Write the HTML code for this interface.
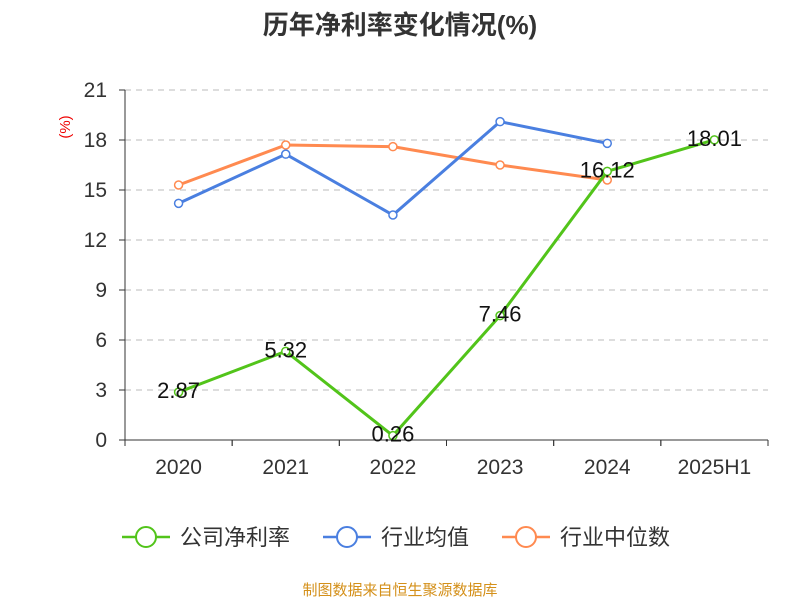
<!DOCTYPE html>
<html><head><meta charset="utf-8"><style>
body{margin:0;background:#fff;font-family:"Liberation Sans","Noto Sans CJK SC",sans-serif}
</style></head><body>
<svg id="c" width="800" height="600" xmlns="http://www.w3.org/2000/svg" font-family="Liberation Sans, Noto Sans CJK SC, sans-serif">
<text x="400" y="34" text-anchor="middle" font-size="26" font-weight="bold" fill="#333">历年净利率变化情况(%)</text>
<text x="70" y="127" text-anchor="middle" font-size="15" fill="#e00" transform="rotate(-90 70 127)">(%)</text>
<g id="grid"></g><g id="axes"></g><g id="series"></g><g id="labels"></g>
<g>
<g><line x1="122" y1="537" x2="170" y2="537" stroke="#52c41a" stroke-width="2.5"/><circle cx="146" cy="537" r="10" fill="#fff" stroke="#52c41a" stroke-width="2"/><text x="180" y="545" font-size="22" fill="#333">公司净利率</text></g>
<g><line x1="323" y1="537" x2="371" y2="537" stroke="#4a7fe0" stroke-width="2.5"/><circle cx="347" cy="537" r="10" fill="#fff" stroke="#4a7fe0" stroke-width="2"/><text x="381" y="545" font-size="22" fill="#333">行业均值</text></g>
<g><line x1="502" y1="537" x2="550" y2="537" stroke="#ff8a50" stroke-width="2.5"/><circle cx="526" cy="537" r="10" fill="#fff" stroke="#ff8a50" stroke-width="2"/><text x="560" y="545" font-size="22" fill="#333">行业中位数</text></g>
</g>
<text x="400" y="595" text-anchor="middle" font-size="15" fill="#d4901a">制图数据来自恒生聚源数据库</text>
</svg>
<script>
const categories=["2020","2021","2022","2023","2024","2025H1"];
const companyValues=[2.87,5.32,0.26,7.46,16.12,18.01];
const industryAvg=[14.2,17.15,13.5,19.1,17.8,null];
const industryMedian=[15.3,17.7,17.6,16.5,15.6,null];
const yTicks=[0,3,6,9,12,15,18,21];
const NS="http://www.w3.org/2000/svg";
const X0=125,X1=768,Y0=440,Y1=90,YMAX=21;
const bw=(X1-X0)/categories.length;
const xs=i=>X0+bw*(i+0.5);
const ys=v=>Y0-(v/YMAX)*(Y0-Y1);
function mk(t,a,p){const e=document.createElementNS(NS,t);for(const k in a)e.setAttribute(k,a[k]);p.appendChild(e);return e;}
const grid=document.getElementById('grid'),axes=document.getElementById('axes'),ser=document.getElementById('series'),lab=document.getElementById('labels');
yTicks.forEach(v=>{
 if(v>0){const l=mk('line',{x1:X0,x2:X1,y1:ys(v),y2:ys(v),stroke:'#bbb','stroke-dasharray':'6,5'},grid);
 
 }
 const tk=mk('line',{x1:X0-6,x2:X0,y1:ys(v),y2:ys(v),stroke:'#333'},axes);
 
 
 const t=mk('text',{x:X0-18,y:ys(v)+7,'text-anchor':'end','font-size':21,fill:'#333'},axes);t.textContent=v;
 
 
});
const ya=mk('line',{x1:X0,x2:X0,y1:Y1,y2:Y0,stroke:'#333'},axes);


const xa=mk('line',{x1:X0,x2:X1,y1:Y0,y2:Y0,stroke:'#333'},axes);


categories.forEach((c,i)=>{
 for(const x of [X0+bw*i,X0+bw*(i+1)]){const tk=mk('line',{x1:x,x2:x,y1:Y0,y2:Y0+6,stroke:'#333'},axes);
 
 }
 const t=mk('text',{x:xs(i),y:Y0+34,'text-anchor':'middle','font-size':21,fill:'#333'},axes);t.textContent=c;
 
 
});
function line(vals,color,name){
 const pts=vals.map((v,i)=>v==null?null:[xs(i),ys(v)]).filter(p=>p);
 const pl=mk('polyline',{points:pts.map(p=>p.join(',')).join(' '),fill:'none',stroke:color,'stroke-width':3},ser);
 
 
 pts.forEach(p=>{const c=mk('circle',{cx:p[0],cy:p[1],r:4,fill:'#fff',stroke:color,'stroke-width':1.5},ser);
 
 });
}
line(industryMedian,'#ff8a50','industry-median');
line(industryAvg,'#4a7fe0','industry-average');
line(companyValues,'#52c41a','company-net-margin');
companyValues.forEach((v,i)=>{
 const t=mk('text',{x:xs(i),y:ys(v)+6,'text-anchor':'middle','font-size':22,fill:'#111'},lab);t.textContent=v.toFixed(2);
 
 
});
</script>
</body></html>
